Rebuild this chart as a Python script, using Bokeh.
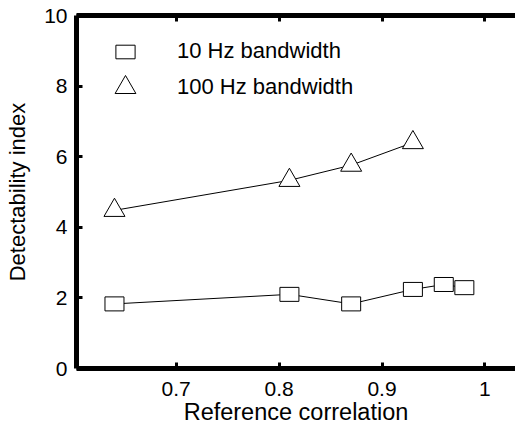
from bokeh.plotting import figure
from bokeh.models import Range1d, LinearAxis, FixedTicker, Legend, LegendItem
from bokeh.embed import file_html
from bokeh.resources import INLINE

# ---- data ----
ref_corr_10 = [0.64, 0.81, 0.87, 0.93, 0.96, 0.98]
dprime_10 = [1.83, 2.10, 1.83, 2.24, 2.38, 2.29]
ref_corr_100 = [0.64, 0.81, 0.87, 0.93]
dprime_100 = [4.48, 5.33, 5.76, 6.40]
x_ticks = [0.7, 0.8, 0.9, 1.0]
y_ticks = [0, 2, 4, 6, 8, 10]
series_labels = ["10 Hz bandwidth", "100 Hz bandwidth"]
x_label = "Reference correlation"
y_label = "Detectability index"

FONT = "Liberation Sans"

p = figure(width=515, height=430, output_backend="svg", toolbar_location=None,
           x_range=Range1d(0.6031, 1.0297), y_range=Range1d(0, 10),
           min_border_left=76, min_border_right=0, min_border_top=15,
           min_border_bottom=62)
p.grid.visible = False
p.outline_line_color = None
p.background_fill_color = "white"
p.border_fill_color = "white"

bottom_axis = p.below[0]
left_axis = p.left[0]
top_axis = LinearAxis()
p.add_layout(top_axis, "above")

for ax in [bottom_axis, left_axis, top_axis]:
    ax.axis_line_width = 5
    ax.axis_line_color = "black"
    ax.major_tick_in = 6
    ax.major_tick_out = 0
    ax.major_tick_line_width = 3
    ax.major_tick_line_color = "black"
    ax.minor_tick_line_color = None
    ax.major_label_text_font = FONT
    ax.major_label_text_font_size = "21px"
    ax.major_label_text_color = "black"
    ax.axis_label_text_font = FONT
    ax.axis_label_text_font_style = "normal"
    ax.axis_label_text_color = "black"

bottom_axis.ticker = FixedTicker(ticks=x_ticks)
top_axis.ticker = FixedTicker(ticks=x_ticks)
left_axis.ticker = FixedTicker(ticks=y_ticks)
bottom_axis.major_label_overrides = {1: "1"}
top_axis.major_label_overrides = {t: "" for t in x_ticks}
top_axis.major_label_standoff = 8

bottom_axis.major_label_standoff = 13
bottom_axis.axis_label = x_label
bottom_axis.axis_label_text_font_size = "23.5px"
bottom_axis.axis_label_standoff = 0

left_axis.major_label_standoff = 9
left_axis.axis_label = y_label
left_axis.axis_label_text_font_size = "22px"
left_axis.axis_label_standoff = 11

# ---- series ----
p.line(ref_corr_10, dprime_10, line_color="black", line_width=1)
sq = p.rect(ref_corr_10, dprime_10, width=19, height=14,
            width_units="screen", height_units="screen",
            fill_color="white", line_color="black", line_width=1)
p.line(ref_corr_100, dprime_100, line_color="black", line_width=1)
tri = p.scatter(ref_corr_100, dprime_100, marker="triangle", size=21,
                fill_color="white", line_color="black", line_width=1)

def make_legend(label, rend, loc, gw, gh, standoff):
    lg = Legend(items=[LegendItem(label=label, renderers=[rend])],
                location=loc, glyph_width=gw, glyph_height=gh,
                label_standoff=standoff, padding=0, margin=0, spacing=0,
                border_line_color=None, background_fill_alpha=0,
                label_text_font=FONT, label_text_font_size="22px",
                label_text_color="black")
    p.add_layout(lg)

make_legend(series_labels[0], sq, (37, 304), 24, 17, 40)
make_legend(series_labels[1], tri, (23, 255), 52, 52, 26)

open("out.html", "w").write(file_html(p, INLINE))
